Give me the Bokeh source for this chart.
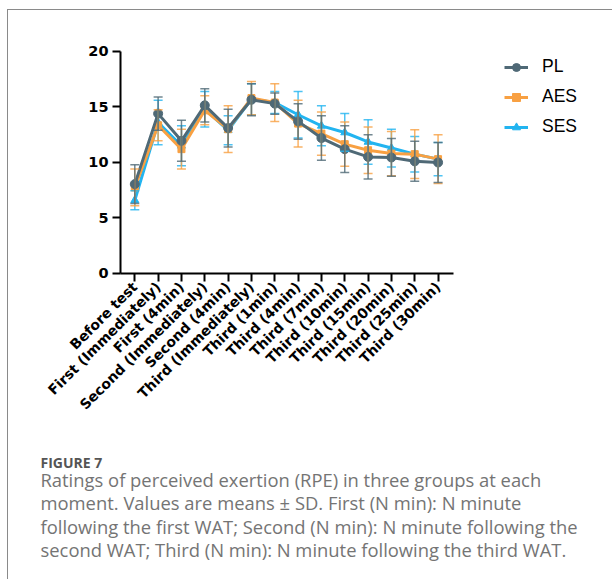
import numpy as np
from bokeh.plotting import figure
from bokeh.models import (ColumnDataSource, Whisker, TeeHead, Legend, LegendItem,
                          Label, FixedTicker, Range1d)
from bokeh.embed import file_html
from bokeh.resources import INLINE

categories = ["Before test", "First (Immediately)", "First (4min)", "Second (Immediately)",
              "Second (4min)", "Third (Immediately)", "Third (1min)", "Third (4min)",
              "Third (7min)", "Third (10min)", "Third (15min)", "Third (20min)",
              "Third (25min)", "Third (30min)"]

pl_mean = [8.05, 14.4, 11.95, 15.15, 13.1, 15.65, 15.3, 13.7, 12.2, 11.2, 10.5, 10.45, 10.1, 10.0]
pl_sd = [1.75, 1.5, 1.85, 1.5, 1.7, 1.45, 0.95, 1.6, 2.0, 2.1, 2.0, 1.7, 1.8, 1.8]

aes_mean = [7.75, 13.35, 11.2, 14.7, 13.0, 15.8, 15.4, 13.5, 12.6, 11.65, 11.1, 10.8, 10.75, 10.3]
aes_sd = [1.65, 1.4, 1.8, 1.3, 2.1, 1.5, 1.7, 2.1, 1.95, 2.0, 2.1, 2.0, 2.2, 2.2]

ses_mean = [6.6, 13.6, 11.5, 14.8, 12.9, 15.7, 15.4, 14.3, 13.3, 12.7, 11.85, 11.3, 10.75, 10.3]
ses_sd = [0.85, 2.0, 1.8, 1.6, 1.3, 1.4, 1.0, 2.1, 1.8, 1.7, 2.0, 1.7, 1.6, 1.5]

y_ticks = [0, 5, 10, 15, 20]

caption_title = "FIGURE 7"
caption_lines = [
    "Ratings of perceived exertion (RPE) in three groups at each",
    "moment. Values are means \u00b1 SD. First (N min): N minute",
    "following the first WAT; Second (N min): N minute following the",
    "second WAT; Third (N min): N minute following the third WAT.",
]

series = [
    ("SES", ses_mean, ses_sd, "#22b4f0", "triangle", 8),
    ("AES", aes_mean, aes_sd, "#f8a042", "square", 7),
    ("PL", pl_mean, pl_sd, "#4f6976", "circle", 9),
]

x_idx = list(range(len(categories)))
BORDER = "1px solid #8a8a8a"

# the plot frame covers the whole canvas; axes are pinned at y=0 / left edge
p = figure(x_range=Range1d(-5.414, 20.52), y_range=Range1d(-27.66, 23.69),
           width=605, height=570, output_backend="svg", toolbar_location=None,
           min_border=0)
p.styles = {"margin-left": "7px", "margin-top": "9px",
            "border-left": BORDER, "border-top": BORDER}
p.outline_line_color = None
p.xgrid.visible = False
p.ygrid.visible = False

xa, ya = p.xaxis[0], p.yaxis[0]
xa.fixed_location = 0
xa.bounds = (-0.613, 13.65)
ya.fixed_location = -0.613
ya.bounds = (0, 20)

for ax in (xa, ya):
    ax.axis_line_width = 2
    ax.axis_line_color = "black"
    ax.major_tick_line_width = 2
    ax.major_tick_line_color = "black"
    ax.major_tick_in = 0
    ax.major_tick_out = 8
    ax.minor_tick_line_color = None
    ax.major_label_text_font = "DejaVu Sans"
    ax.major_label_text_font_style = "bold"
    ax.major_label_text_color = "black"

ya.ticker = FixedTicker(ticks=y_ticks)
ya.major_label_text_font_size = "14.5px"
ya.major_label_standoff = 4
xa.ticker = FixedTicker(ticks=x_idx)
xa.major_label_overrides = {i: c for i, c in zip(x_idx, categories)}
xa.major_label_text_font_size = "14px"
xa.major_label_orientation = np.pi / 4
xa.major_label_standoff = 3

renderers = {}
for name, mean, sd, color, marker, size in series:
    upper = [m + s for m, s in zip(mean, sd)]
    lower = [m - s for m, s in zip(mean, sd)]
    src = ColumnDataSource(dict(x=x_idx, y=mean, upper=upper, lower=lower))
    w = Whisker(base="x", upper="upper", lower="lower", source=src,
                line_color=color, line_width=1.5, line_alpha=0.8,
                upper_head=TeeHead(size=9, line_color=color, line_width=1.5, line_alpha=0.8),
                lower_head=TeeHead(size=9, line_color=color, line_width=1.5, line_alpha=0.8))
    w.level = "glyph"
    p.add_layout(w)
    ln = p.line("x", "y", source=src, line_color=color, line_width=3)
    sc = p.scatter("x", "y", source=src, marker=marker, size=size,
                   fill_color=color, line_color=color)
    renderers[name] = [ln, sc]

legend = Legend(items=[LegendItem(label=n, renderers=renderers[n]) for n in ["PL", "AES", "SES"]],
                location=(496, 443), glyph_width=24, glyph_height=20, label_height=20,
                spacing=9, padding=0, margin=0, border_line_color=None,
                background_fill_alpha=0, label_text_font="Liberation Sans",
                label_text_font_size="17.5px", label_standoff=14, label_text_color="black")
p.add_layout(legend)

p.add_layout(Label(x=32, y=118, x_units="screen", y_units="screen", text=caption_title,
                   text_font="Open Sans", text_font_style="bold", text_font_size="14px",
                   text_color="#555555", text_baseline="alphabetic"))
for i, line in enumerate(caption_lines):
    p.add_layout(Label(x=32, y=101.5 - 23.5 * i, x_units="screen", y_units="screen",
                       text=line, text_font="Open Sans", text_font_size="18.4px",
                       text_color="#747474", text_baseline="alphabetic"))

open("out.html", "w").write(file_html(p, INLINE))
